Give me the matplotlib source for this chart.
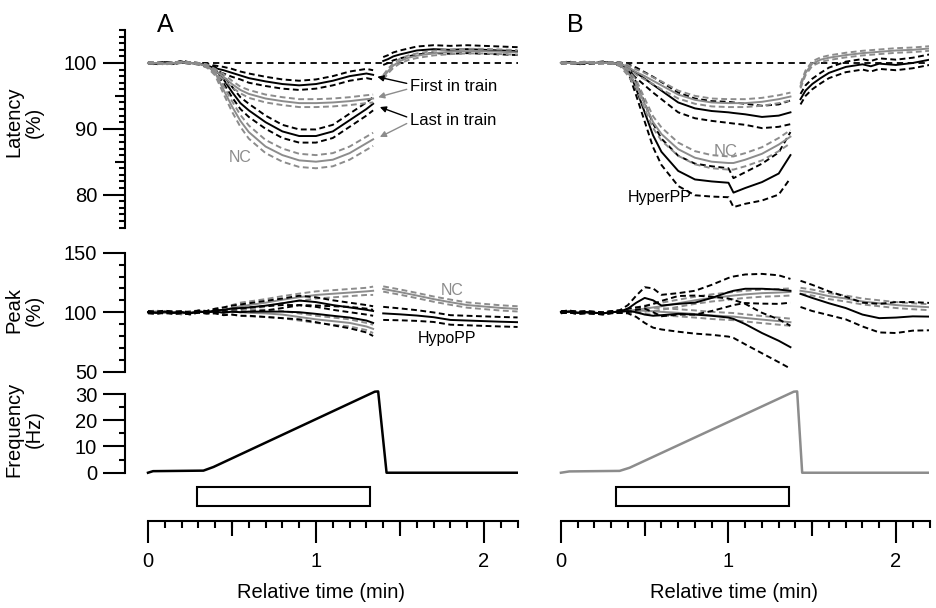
import numpy as np
import matplotlib
matplotlib.use('Agg')
import matplotlib.pyplot as plt
from matplotlib.patches import Rectangle
from matplotlib.ticker import FixedLocator

plt.rcParams['font.family'] = ['Liberation Sans', 'DejaVu Sans']

GRAY = '#8c8c8c'

# ---- panel A (HypoPP vs NC) ----
t_a = [0, 0.05, 0.1, 0.15, 0.2, 0.25, 0.3, 0.35, 0.4, 0.45, 0.5, 0.55, 0.6,
       0.7, 0.8, 0.9, 1.0, 1.1, 1.2, 1.3, 1.34]
t_a_post = [1.40, 1.43, 1.46, 1.5, 1.55, 1.6, 1.7, 1.8, 1.9, 2.0, 2.1, 2.2]
t_a_post_pk = [1.40, 1.5, 1.6, 1.7, 1.8, 1.9, 2.0, 2.1, 2.2]

hypo_first_lat = [100.0, 99.9, 100.1, 99.9, 100.2, 100.0, 99.9, 99.6, 99.2, 98.9, 98.5, 98.1, 97.7,
                  97.2, 96.8, 96.6, 96.8, 97.3, 98.0, 98.4, 98.2]
hypo_first_lat_sem = [0.1, 0.1, 0.1, 0.1, 0.1, 0.1, 0.1, 0.2, 0.4, 0.5, 0.6, 0.6, 0.7,
                      0.7, 0.7, 0.7, 0.7, 0.7, 0.7, 0.7, 0.7]
hypo_last_lat = [100.0, 99.9, 100.1, 99.9, 100.2, 100.0, 99.9, 99.7, 99.0, 97.5, 95.6, 93.9, 92.8,
                 91.0, 89.6, 88.9, 88.9, 89.6, 91.3, 93.0, 93.8]
hypo_last_lat_sem = [0.1, 0.1, 0.1, 0.1, 0.1, 0.1, 0.1, 0.2, 0.4, 0.6, 0.8, 0.9, 1.0,
                     1.0, 1.0, 1.0, 1.0, 1.0, 1.0, 1.0, 1.0]
nc_first_lat_a = [100.0, 100.0, 99.9, 100.0, 100.1, 100.0, 99.9, 99.5, 98.8, 97.9, 96.8, 95.9, 95.3,
                  94.6, 94.2, 93.9, 93.9, 94.0, 94.2, 94.5, 94.6]
nc_first_lat_a_sem = [0.1, 0.1, 0.1, 0.1, 0.1, 0.1, 0.1, 0.2, 0.3, 0.4, 0.5, 0.5, 0.6,
                      0.6, 0.6, 0.6, 0.6, 0.6, 0.6, 0.6, 0.6]
nc_last_lat_a = [100.0, 100.0, 99.9, 100.0, 100.1, 100.0, 99.9, 99.6, 98.5, 95.9, 93.4, 91.2, 89.5,
                 87.3, 86.0, 85.2, 85.0, 85.3, 86.3, 87.8, 88.4]
nc_last_lat_a_sem = [0.1, 0.1, 0.1, 0.1, 0.1, 0.1, 0.1, 0.2, 0.4, 0.6, 0.8, 0.9, 1.0,
                     1.0, 1.0, 1.0, 1.0, 1.0, 1.0, 1.0, 1.0]
hypo_post_lat = [100.3, 100.6, 101.0, 101.3, 101.6, 101.9, 102.1, 102.0, 102.1, 102.0, 101.9, 101.8]
hypo_post_lat_sem = [0.6, 0.6, 0.6, 0.6, 0.6, 0.6, 0.6, 0.6, 0.6, 0.6, 0.6, 0.6]
nc_post_lat_a = [97.8, 98.8, 99.6, 100.3, 100.8, 101.1, 101.5, 101.7, 101.8, 101.8, 101.7, 101.6]
nc_post_lat_a_sem = [0.35, 0.35, 0.35, 0.35, 0.35, 0.35, 0.35, 0.35, 0.35, 0.35, 0.35, 0.35]

nc_first_pk_a = [100, 100.5, 99.5, 100, 99, 100, 100.5, 100, 101, 102, 103.5, 105, 106,
                 108, 110.5, 112.6, 114.5, 115.5, 116.5, 117.5, 118]
nc_last_pk_a = [100, 100.5, 99.5, 100, 99, 100, 100.5, 100, 100.5, 100, 100.5, 100, 99.5,
                99, 98, 96, 94, 92.5, 91, 88, 86]
nc_pk_a_sem = [0.8, 0.8, 0.8, 0.8, 0.8, 0.8, 0.8, 1, 1.5, 2, 2.5, 3, 3,
               3, 3, 3, 3, 3, 3, 3, 3.5]
hypo_first_pk = [100, 99.5, 100.5, 99.5, 100, 99, 100.5, 100, 101.5, 102, 103, 103.5, 104,
                 105.5, 107.5, 109.8, 108.5, 106, 104, 102, 101]
hypo_first_pk_sem = [0.8, 0.8, 0.8, 0.8, 0.8, 0.8, 0.8, 1, 1.5, 2, 2.5, 3, 3.5,
                     4, 4, 4, 4, 4, 4, 4, 4]
hypo_last_pk = [100, 99.5, 100.5, 99.5, 100, 99, 100.5, 100, 100.5, 99.5, 100.5, 100, 100.5,
                100.5, 100.5, 100, 98.6, 97, 95.5, 93, 91]
hypo_last_pk_sem = [0.8, 0.8, 0.8, 0.8, 0.8, 0.8, 0.8, 1, 1.5, 2, 2.5, 3, 3.5,
                    4.5, 5.5, 6, 7, 8, 9, 10, 11]
nc_post_pk_a = [119.5, 116.9, 114, 111, 108.4, 106, 104.8, 103.6, 102.8]
nc_post_pk_a_sem = [2.2, 2.2, 2.2, 2.2, 2.2, 2.2, 2.2, 2.2, 2.2]
hypo_post_pk = [99, 98.2, 97.2, 95.8, 93.5, 93, 92.5, 92, 91.6]
hypo_post_pk_sem = [5.5, 5, 4.5, 4, 4, 4, 4, 4, 4]

freq_t_a = [0, 0.03, 0.33, 0.39, 1.35, 1.37, 1.42, 2.2]
freq_a = [0, 0.6, 0.8, 2.2, 30.9, 31.0, 0, 0]
stim_a = (0.29, 1.32)

# ---- panel B (HyperPP vs NC) ----
t_b = [0, 0.05, 0.1, 0.15, 0.2, 0.25, 0.3, 0.35, 0.4, 0.45, 0.5, 0.55, 0.6,
       0.7, 0.8, 0.9, 1.0, 1.03, 1.1, 1.2, 1.3, 1.37]
t_b_post = [1.43, 1.46, 1.5, 1.55, 1.6, 1.7, 1.8, 1.85, 1.9, 2.0, 2.1, 2.2]
t_b_post_pk = [1.43, 1.5, 1.6, 1.7, 1.8, 1.9, 2.0, 2.1, 2.2]

hyper_first_lat = [100.0, 100.1, 99.9, 100.0, 100.0, 100.1, 100.0, 99.9, 99.3, 98.5, 97.6, 96.7, 95.8,
                   94.0, 93.1, 92.7, 92.5, 92.4, 92.2, 91.8, 92.0, 92.5]
hyper_first_lat_sem = [0.1, 0.1, 0.1, 0.1, 0.1, 0.1, 0.1, 0.2, 0.5, 0.8, 1.0, 1.2, 1.3,
                       1.5, 1.5, 1.5, 1.6, 1.6, 1.6, 1.7, 1.7, 1.8]
hyper_last_lat = [100.0, 100.1, 99.9, 100.0, 100.0, 100.1, 100.0, 99.8, 99.2, 96.0, 92.5, 89.0, 86.5,
                  83.6, 82.3, 82.0, 81.8, 80.3, 81.0, 81.9, 83.2, 86.0]
hyper_last_lat_sem = [0.1, 0.1, 0.1, 0.1, 0.1, 0.1, 0.1, 0.2, 0.5, 1.0, 1.4, 1.8, 2.0,
                      2.3, 2.4, 2.3, 2.2, 2.2, 2.4, 2.8, 3.2, 3.5]
nc_first_lat_b = [100.0, 100.0, 100.0, 100.1, 100.0, 100.0, 100.0, 99.9, 99.4, 98.6, 98.0, 97.3, 96.6,
                  95.2, 94.4, 94.0, 93.9, 93.9, 93.9, 94.1, 94.5, 94.9]
nc_first_lat_b_sem = [0.1, 0.1, 0.1, 0.1, 0.1, 0.1, 0.1, 0.2, 0.3, 0.4, 0.5, 0.5, 0.6,
                      0.6, 0.6, 0.6, 0.6, 0.6, 0.6, 0.6, 0.6, 0.6]
nc_last_lat_b = [100.0, 100.0, 100.0, 100.1, 100.0, 100.0, 100.0, 99.8, 98.5, 96.8, 93.8, 91.0, 89.2,
                 86.9, 85.6, 85.0, 84.8, 84.8, 85.3, 86.2, 87.6, 88.8]
nc_last_lat_b_sem = [0.1, 0.1, 0.1, 0.1, 0.1, 0.1, 0.1, 0.2, 0.4, 0.6, 0.8, 0.9, 1.0,
                     1.0, 1.0, 1.0, 1.0, 1.0, 1.0, 1.0, 1.0, 1.0]
nc_post_lat_b = [96.5, 98.5, 99.9, 100.5, 100.8, 101.2, 101.5, 101.6, 101.7, 101.9, 102.0, 102.2]
nc_post_lat_b_sem = [0.35, 0.35, 0.35, 0.35, 0.35, 0.35, 0.35, 0.35, 0.35, 0.35, 0.35, 0.35]
hyper_post_lat = [94.5, 95.8, 96.8, 97.7, 98.5, 99.4, 99.8, 99.5, 99.9, 99.7, 100.0, 100.5]
hyper_post_lat_sem = [0.8, 0.8, 0.8, 0.8, 0.8, 0.8, 0.8, 0.8, 0.8, 0.8, 0.8, 0.8]

hyper_first_pk = [100, 100.5, 99.5, 100, 99.5, 99, 100, 100.5, 103, 108, 112, 110, 105.6,
                  107, 108, 112, 116.8, 118, 119.7, 119.7, 119, 118]
hyper_first_pk_sem = [0.8, 0.8, 0.8, 0.8, 0.8, 0.8, 0.8, 1, 3, 6, 9, 10, 9,
                      9, 10, 11, 12, 12, 12, 12.5, 12, 10]
hyper_last_pk = [100, 100.5, 99.5, 100, 99.5, 99, 100, 100.5, 101, 100, 98, 97, 97.5,
                 98.6, 98, 97, 95.5, 94.4, 90, 82.5, 76, 70.6]
hyper_last_pk_sem = [0.8, 0.8, 0.8, 0.8, 0.8, 0.8, 0.8, 1, 2, 4, 7, 10, 12,
                     15, 16, 16, 16, 16, 17, 17, 18, 18]
nc_first_pk_b = [100, 100.5, 99.5, 100, 99.5, 99, 100, 100.5, 101, 102, 103, 104, 105,
                 107.5, 110, 112, 113.5, 114, 115, 116, 116.5, 117]
nc_last_pk_b = [100, 100.5, 99.5, 100, 99.5, 99, 100, 100.3, 101, 101.4, 101.2, 100.8, 100.3,
                99.5, 98.5, 97.3, 96.5, 96.3, 95.2, 93.8, 92.5, 91.6]
nc_pk_b_sem = [0.8, 0.8, 0.8, 0.8, 0.8, 0.8, 0.8, 1, 1.5, 2, 2.5, 3, 3,
               3, 3, 3, 3, 3, 3, 3, 3, 3]
nc_post_pk_b = [118, 116.5, 113.5, 111.5, 109, 107.5, 106, 105, 104.2]
nc_post_pk_b_sem = [2.5, 2.5, 2.5, 2.5, 2.5, 2.5, 2.5, 2.5, 2.5]
hyper_post_pk = [115.4, 112, 107.5, 103.5, 98, 95, 95.5, 96.5, 96.3]
hyper_post_pk_sem = [11, 11, 10, 9.5, 10, 12, 13, 12, 11.5]

freq_t_b = [0, 0.05, 0.35, 0.41, 1.39, 1.41, 1.44, 2.2]
freq_b = [0, 0.5, 0.7, 1.9, 30.9, 31.0, 0, 0]
stim_b = (0.33, 1.36)

W, H = 937, 608
fig = plt.figure(figsize=(W / 100, H / 100), dpi=100)


def add_ax(left, top, right, bottom):
    return fig.add_axes([left / W, 1 - bottom / H, (right - left) / W, (bottom - top) / H])


def trace(ax, t, mean, sem, color, z=2):
    t, m, s = np.asarray(t), np.asarray(mean), np.asarray(sem)
    ax.plot(t, m, color=color, lw=1.4, zorder=z, solid_joinstyle='round')
    ax.plot(t, m + s, color=color, lw=1.4, ls=(0, (3, 1.8)), zorder=z)
    ax.plot(t, m - s, color=color, lw=1.4, ls=(0, (3, 1.8)), zorder=z)


def clean(ax):
    for s in ['top', 'right', 'bottom']:
        ax.spines[s].set_visible(False)
    ax.set_xlim(-0.1369, 2.2)
    ax.set_xticks([])
    ax.patch.set_alpha(0)


def y_axis(ax, lo, hi, major, mid, minor, show):
    ax.set_ylim(lo, hi)
    if not show:
        ax.spines['left'].set_visible(False)
        ax.set_yticks([])
        return
    ax.spines['left'].set_linewidth(1.5)
    ax.spines['left'].set_bounds(major[0] if major[0] > lo else lo, major[-1])
    ax.yaxis.set_major_locator(FixedLocator(major))
    ax.yaxis.set_minor_locator(FixedLocator(minor))
    ax.tick_params(axis='y', which='major', length=16, width=1.5, labelsize=14.5, pad=4)
    ax.tick_params(axis='y', which='minor', length=4.5, width=1.5)
    if mid:
        sec = ax.secondary_yaxis('left')
        sec.spines['left'].set_visible(False)
        sec.set_yticks(mid)
        sec.tick_params(length=7.5, width=1.5, labelleft=False)


cols = [
    dict(left=125, right=517.6, show=True, label='A'),
    dict(left=538, right=929.5, show=False, label='B'),
]

axes = {}
for ci, c in enumerate(cols):
    lat = add_ax(c['left'], 28.1, c['right'], 227.5)
    pk = add_ax(c['left'], 252.7, c['right'], 371.7)
    fr = add_ax(c['left'], 390.1, c['right'], 521.0)
    for ax in (lat, pk, fr):
        clean(ax)
    y_axis(lat, 75, 105.3, [80, 90, 100], [85, 95],
           [v for v in range(75, 106) if v % 5 != 0] + [75, 105], c['show'])
    lat.spines['left'].set_bounds(75, 105)
    y_axis(pk, 50, 150, [50, 100, 150], None, [60, 70, 80, 90, 110, 120, 130, 140], c['show'])
    y_axis(fr, -18.4, 31.5, [0, 10, 20, 30], None, [5, 15, 25], c['show'])
    if c['show']:
        fr.spines['left'].set_bounds(0, 30)
    # time axis
    fr.spines['bottom'].set_visible(True)
    fr.spines['bottom'].set_linewidth(1.5)
    fr.spines['bottom'].set_bounds(0, 2.2)
    fr.xaxis.set_major_locator(FixedLocator([0, 1, 2]))
    fr.xaxis.set_minor_locator(FixedLocator([round(0.1 * k, 1) for k in range(23)]))
    fr.tick_params(axis='x', which='major', length=16, width=1.5, labelsize=14.5, pad=6)
    fr.tick_params(axis='x', which='minor', length=5, width=1.5)
    fr.set_xticklabels(['0', '1', '2'])
    secx = fr.secondary_xaxis('bottom')
    secx.spines['bottom'].set_visible(False)
    secx.set_xticks([0.5, 1.5])
    secx.tick_params(length=10.5, width=1.5, labelbottom=False)
    fr.set_xlabel('Relative time (min)', fontsize=14.5, labelpad=9)
    lat.axhline(100, xmin=0.1369 / 2.3369, xmax=1, color='black', lw=1.3, ls=(0, (3.5, 2.5)), zorder=1)
    axes[c['label']] = (lat, pk, fr)

# panel A traces
lat, pk, fr = axes['A']
trace(lat, t_a, hypo_first_lat, hypo_first_lat_sem, 'black')
trace(lat, t_a, hypo_last_lat, hypo_last_lat_sem, 'black')
trace(lat, t_a_post, hypo_post_lat, hypo_post_lat_sem, 'black')
trace(lat, t_a, nc_first_lat_a, nc_first_lat_a_sem, GRAY, 3)
trace(lat, t_a, nc_last_lat_a, nc_last_lat_a_sem, GRAY, 3)
trace(lat, t_a_post, nc_post_lat_a, nc_post_lat_a_sem, GRAY, 3)
trace(pk, t_a, nc_first_pk_a, nc_pk_a_sem, GRAY)
trace(pk, t_a, nc_last_pk_a, nc_pk_a_sem, GRAY)
trace(pk, t_a_post_pk, nc_post_pk_a, nc_post_pk_a_sem, GRAY)
trace(pk, t_a, hypo_first_pk, hypo_first_pk_sem, 'black', 3)
trace(pk, t_a, hypo_last_pk, hypo_last_pk_sem, 'black', 3)
trace(pk, t_a_post_pk, hypo_post_pk, hypo_post_pk_sem, 'black', 3)
fr.plot(freq_t_a, freq_a, color='black', lw=1.8)
fr.add_patch(Rectangle((stim_a[0], -12.7), stim_a[1] - stim_a[0], 7.3,
                       fill=False, lw=1.5, ec='black', clip_on=False))

lat.text(1.56, 96.35, 'First in train', fontsize=12, va='center')
lat.text(1.56, 91.3, 'Last in train', fontsize=12, va='center')
arrow_heads = [((1.365, 97.9), (1.54, 96.9), 'black'), ((1.37, 94.8), (1.54, 96.0), GRAY),
               ((1.38, 93.3), (1.54, 91.8), 'black'), ((1.38, 88.75), (1.54, 90.8), GRAY)]
for head, tail, col in arrow_heads:
    lat.annotate('', xy=head, xytext=tail,
                 arrowprops=dict(arrowstyle='-|>', color=col, lw=1.0, mutation_scale=9,
                                 shrinkA=0, shrinkB=0))
lat.text(0.55, 85.6, 'NC', fontsize=11.5, color=GRAY, ha='center', va='center')
pk.text(1.81, 118.2, 'NC', fontsize=11.5, color=GRAY, ha='center', va='center')
pk.text(1.78, 78, 'HypoPP', fontsize=11.5, color='black', ha='center', va='center')

# panel B traces
lat, pk, fr = axes['B']
trace(lat, t_b, hyper_first_lat, hyper_first_lat_sem, 'black')
trace(lat, t_b, hyper_last_lat, hyper_last_lat_sem, 'black')
trace(lat, t_b_post, hyper_post_lat, hyper_post_lat_sem, 'black')
trace(lat, t_b, nc_first_lat_b, nc_first_lat_b_sem, GRAY, 3)
trace(lat, t_b, nc_last_lat_b, nc_last_lat_b_sem, GRAY, 3)
trace(lat, t_b_post, nc_post_lat_b, nc_post_lat_b_sem, GRAY, 3)
trace(pk, t_b, nc_first_pk_b, nc_pk_b_sem, GRAY)
trace(pk, t_b, nc_last_pk_b, nc_pk_b_sem, GRAY)
trace(pk, t_b_post_pk, nc_post_pk_b, nc_post_pk_b_sem, GRAY)
trace(pk, t_b, hyper_first_pk, hyper_first_pk_sem, 'black', 3)
trace(pk, t_b, hyper_last_pk, hyper_last_pk_sem, 'black', 3)
trace(pk, t_b_post_pk, hyper_post_pk, hyper_post_pk_sem, 'black', 3)
fr.plot(freq_t_b, freq_b, color=GRAY, lw=1.8)
fr.add_patch(Rectangle((stim_b[0], -12.7), stim_b[1] - stim_b[0], 7.3,
                       fill=False, lw=1.5, ec='black', clip_on=False))
lat.text(0.985, 86.5, 'NC', fontsize=12, color=GRAY, ha='center', va='center')
lat.text(0.59, 79.5, 'HyperPP', fontsize=11.5, color='black', ha='center', va='center')

# panel letters and y labels
fig.text(165 / W, 1 - 25 / H, 'A', fontsize=18, ha='center', va='center')
fig.text(575 / W, 1 - 25 / H, 'B', fontsize=18, ha='center', va='center')
for txt, yc in [('Latency\n(%)', 122), ('Peak\n(%)', 310), ('Frequency\n(Hz)', 429)]:
    fig.text(24 / W, 1 - yc / H, txt, fontsize=14.5, rotation=90, ha='center', va='center',
             multialignment='center', linespacing=1.05)

fig.savefig('out.png', dpi=100)
